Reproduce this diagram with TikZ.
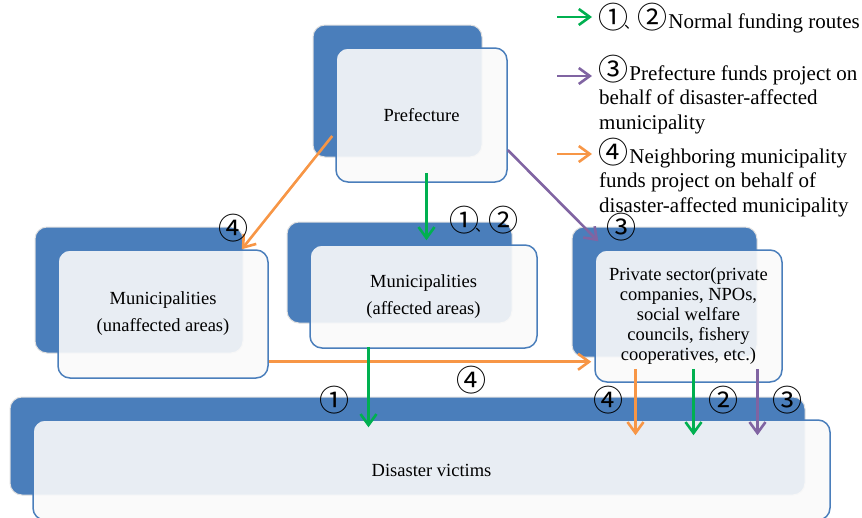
\documentclass[tikz,border=0pt]{standalone}
\usepackage{fontspec}
\setmainfont{Liberation Serif}
\newfontfamily\cjk{Noto Sans CJK JP}
\usetikzlibrary{arrows.meta,calc}
\definecolor{blau}{RGB}{74,126,187}
\definecolor{gruen}{RGB}{0,176,80}
\definecolor{lila}{RGB}{128,100,162}
\definecolor{orangeP}{RGB}{247,150,70}
\newcommand\kr[1]{\smash{\cjk\fontsize{30}{30}\selectfont\kern-1pt#1\kern-4pt}}
\newcommand\komma{\smash{\cjk\fontsize{15}{15}\selectfont 、\kern-1pt}}
\begin{document}
\begin{tikzpicture}[x=1pt,y=-1pt,>={Straight Barb[length=11pt,width=16pt]},
	hinten/.style={fill=blau,draw=black!12,line width=1pt,rounded corners=12pt},
	vorne/.style={draw=blau,line width=1.5pt,fill=white!98!black,fill opacity=0.9,text opacity=1,
		rounded corners=12pt,align=center,inner sep=2pt,font=\fontsize{18.5}{27}\selectfont},
	pfeil/.style={->,line width=2.6pt},
	ziffer/.style={inner sep=0pt,anchor=base},
	legende/.style={anchor=base west,align=left,inner sep=0pt,font=\fontsize{21}{24.5}\selectfont}]
\useasboundingbox (0,0) rectangle (862,517);
\clip (0,0) rectangle (862,517);
\def\kasten#1#2#3#4#5#6#7{
	\draw[hinten] (#3,#4) rectangle (#5,#6);
	\node[vorne,#2,minimum width={#5-#3+2},minimum height={#6-#4+2}] (#1)
		at ({(#3+#5)/2+24},{(#4+#6)/2+24}) {#7};
}
\kasten{pref}{}{313}{25}{482}{157}{Prefecture}
\kasten{unaff}{}{35}{227}{243}{353}{Municipalities\\(unaffected areas)}
\kasten{aff}{}{287}{222}{512}{323}{Municipalities\\(affected areas)}
\kasten{priv}{font=\fontsize{18.5}{20}\selectfont}{572}{227}{757}{357}{Private sector(private\\companies, NPOs,\\social welfare\\councils, fishery\\cooperatives, etc.)}
\kasten{vict}{}{10}{397}{805}{495}{Disaster victims}
% Pfeile
\draw[pfeil,orangeP] ($(pref.west)+(-3,21)$) -- ($(unaff.north east)+(-27,0)$);
\draw[pfeil,gruen] ($(pref.south)+(5,-10)$) -- ($(pref.south |- aff.north)+(5,-4)$);
\draw[pfeil,lila] ($(pref.east)+(0,35)$) -- ($(priv.north west)+(4,-8)$);
\draw[pfeil,orangeP] ($(unaff.south east)+(0,-17)$) -- ($(priv.west |- unaff.south east)+(-3,-17)$);
\draw[pfeil,gruen] ($(aff.south)+(-55,-2)$) -- ($(aff.south |- vict.north)+(-55,8)$);
\foreach \dx/\farbe in {-53/orangeP,5/gruen,69/lila}{
	\draw[pfeil,\farbe] ($(priv.south)+(\dx,-14)$) -- ($(priv.south |- vict.north)+(\dx,16)$);
}
% Ziffern (Grundlinie)
\node[ziffer] (z4a) at (232,239) {\kr{④}};
\node[ziffer] (z12) at (482,231) {\kr{①}\komma\kr{②}};
\node[ziffer] (z3a) at (620,238) {\kr{③}};
\node[ziffer] (z4b) at (470,391) {\kr{④}};
\node[ziffer] (z1) at (333,411) {\kr{①}};
\node[ziffer] (z4c) at (607,411) {\kr{④}};
\node[ziffer] (z2) at (722,411) {\kr{②}};
\node[ziffer] (z3b) at (786,411) {\kr{③}};
% Legende
\node[legende] (leg1) at (599,28) {\kr{①}\komma\kr{②} Normal funding routes};
\node[legende] (leg2) at (599,129) {\kr{③} Prefecture funds project on\\behalf of disaster-affected\\municipality};
\node[legende] (leg3) at (599,212) {\kr{④} Neighboring municipality\\funds project on behalf of\\disaster-affected municipality};
\coordinate (l1) at (557,17);
\coordinate (l2) at (557,76);
\coordinate (l3) at (557,154);
\draw[pfeil,gruen] (l1) -- ($(l1 -| leg1.west)+(-7,0)$);
\draw[pfeil,lila] (l2) -- ($(l2 -| leg2.west)+(-7,0)$);
\draw[pfeil,orangeP] (l3) -- ($(l3 -| leg3.west)+(-7,0)$);
\end{tikzpicture}
\end{document}
